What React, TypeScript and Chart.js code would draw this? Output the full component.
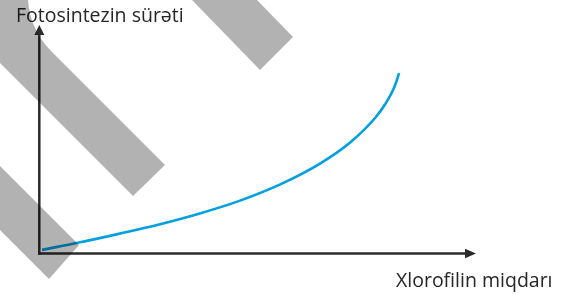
import React, { useEffect, useRef } from "react";
import { Chart, registerables } from "chart.js";

Chart.register(...registerables);

// Data (abstract units, 0–100 on both axes)
const chlorophyll = [0.7, 9.4, 18.5, 27.7, 36.8, 46.0, 55.2, 64.3, 71.2, 76.9, 79.2, 81.4, 82.4];
const photosynthesisRate = [1.8, 5.1, 8.9, 13.0, 17.7, 23.3, 30.4, 39.5, 48.7, 59.4, 65.4, 73.3, 79.0];
const xAxisLabel = "Xlorofilin miqdarı";
const yAxisLabel = "Fotosintezin sürəti";

const AXIS_COLOR = "#2b2b2b";
const TEXT_COLOR = "#262626";
const LINE_COLOR = "#00a0e3";
const FONT = '19.5px "Open Sans", "Noto Sans", sans-serif';

const axesPlugin = {
  id: "arrowAxes",
  beforeDatasetsDraw(chart: any) {
    const { ctx, chartArea } = chart;
    const { left, right, top, bottom } = chartArea;
    const x0 = left + 0.3;
    const y0 = bottom - 0.5;
    ctx.save();
    ctx.strokeStyle = AXIS_COLOR;
    ctx.fillStyle = AXIS_COLOR;
    ctx.lineWidth = 2.5;
    ctx.lineCap = "butt";
    // vertical axis
    ctx.beginPath();
    ctx.moveTo(x0, y0 + 1.25);
    ctx.lineTo(x0, top + 9);
    ctx.stroke();
    ctx.beginPath();
    ctx.moveTo(x0, top);
    ctx.lineTo(x0 - 5, top + 10);
    ctx.lineTo(x0 + 5, top + 10);
    ctx.closePath();
    ctx.fill();
    // horizontal axis
    ctx.beginPath();
    ctx.moveTo(x0 - 1.25, y0);
    ctx.lineTo(right - 10, y0);
    ctx.stroke();
    ctx.beginPath();
    ctx.moveTo(right, y0);
    ctx.lineTo(right - 11, y0 - 4.8);
    ctx.lineTo(right - 11, y0 + 4.8);
    ctx.closePath();
    ctx.fill();
    ctx.restore();
  },
  afterDraw(chart: any) {
    const { ctx } = chart;
    ctx.save();
    // labels
    ctx.fillStyle = TEXT_COLOR;
    ctx.font = FONT;
    ctx.textBaseline = "alphabetic";
    ctx.textAlign = "left";
    ctx.fillText(yAxisLabel, 16, 22);
    ctx.fillText(xAxisLabel, 396, 287);
    // translucent diagonal watermark stripes
    ctx.fillStyle = "rgba(0,0,0,0.3)";
    ctx.beginPath();
    ctx.moveTo(0, 0);
    ctx.lineTo(28, 0);
    ctx.quadraticCurveTo(30, 30, 52, 52);
    ctx.lineTo(165, 165);
    ctx.lineTo(133, 196);
    ctx.lineTo(0, 63);
    ctx.closePath();
    ctx.fill();
    ctx.beginPath();
    ctx.moveTo(192, 0);
    ctx.lineTo(257, 0);
    ctx.lineTo(293, 37);
    ctx.lineTo(260, 70);
    ctx.closePath();
    ctx.fill();
    ctx.beginPath();
    ctx.moveTo(0, 166);
    ctx.lineTo(79, 245);
    ctx.lineTo(49, 279);
    ctx.lineTo(0, 230);
    ctx.closePath();
    ctx.fill();
    ctx.restore();
  },
};

export default function App() {
  const canvasRef = useRef<HTMLCanvasElement | null>(null);

  useEffect(() => {
    const canvas = canvasRef.current;
    if (!canvas) return;
    const chart = new Chart(canvas, {
      type: "line",
      data: {
        datasets: [
          {
            data: chlorophyll.map((x, i) => ({ x, y: photosynthesisRate[i] })),
            borderColor: LINE_COLOR,
            borderWidth: 2.6,
            pointRadius: 0,
            cubicInterpolationMode: "monotone",
            fill: false,
          },
        ],
      },
      options: {
        responsive: false,
        animation: false,
        layout: { padding: { left: 39, top: 25, right: 102, bottom: 40 } },
        plugins: {
          legend: { display: false },
          tooltip: { enabled: false },
          title: { display: false },
        },
        scales: {
          x: { type: "linear", min: 0, max: 100, display: false },
          y: { type: "linear", min: 0, max: 100, display: false },
        },
      },
      plugins: [axesPlugin],
    } as any);
    return () => chart.destroy();
  }, []);

  return (
    <div style={{ position: "absolute", left: 0, top: 0, width: 578, height: 294, background: "#fff" }}>
      <canvas ref={canvasRef} width={578} height={294} style={{ display: "block" }} />
    </div>
  );
}
